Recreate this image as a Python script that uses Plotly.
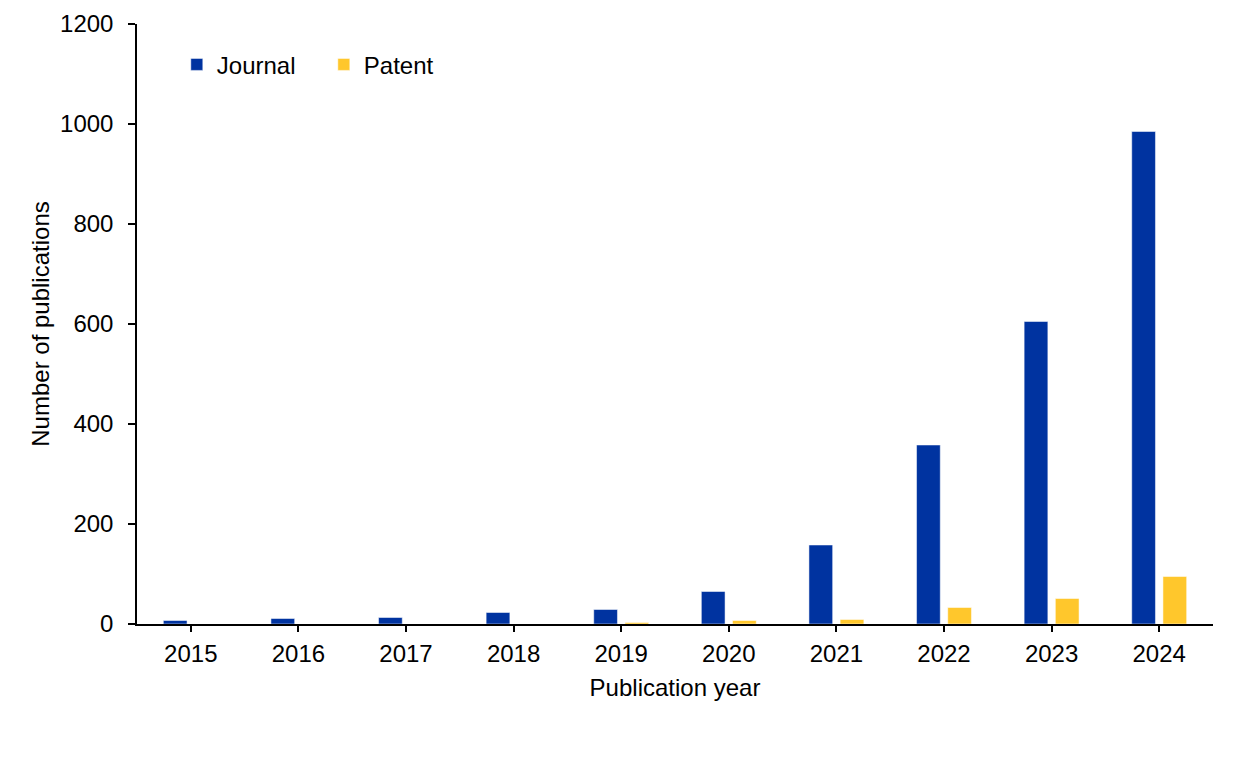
# imports
import plotly.graph_objects as go

# data
years = ['2015', '2016', '2017', '2018', '2019', '2020', '2021', '2022', '2023', '2024']
journal = [7, 11, 13, 23, 29, 65, 158, 358, 605, 985]
patent = [0, 0, 0, 0, 3, 7, 9, 33, 51, 95]
y_ticks = [0, 200, 400, 600, 800, 1000, 1200]

font_name = 'Liberation Sans, Arial, sans-serif'
text_font = dict(family=font_name, size=24, color='black')

# create the figure
fig = go.Figure()

# Journal bars
fig.add_trace(go.Bar(
    x=years,
    y=journal,
    name='Journal',
    marker_color='#0033A0'
))

# Patent bars
fig.add_trace(go.Bar(
    x=years,
    y=patent,
    name='Patent',
    marker_color='#FFC72C'
))

# Update layout (page body adds an 8px offset, so margins are trimmed by 8)
fig.update_layout(
    width=1236,
    height=781,
    template='simple_white',
    barmode='group',
    bargap=0.42,
    bargroupgap=0.24,
    margin=dict(l=129, r=31, t=16, b=165, autoexpand=False),
    font=text_font,
    plot_bgcolor='white',
    paper_bgcolor='white',
    legend=dict(
        orientation='h',
        x=0.037,
        xanchor='left',
        y=0.932,
        yanchor='middle',
        entrywidth=102,
        entrywidthmode='pixels',
        font=text_font,
        bgcolor='rgba(0,0,0,0)'
    ),
    xaxis=dict(
        title=dict(text='Publication year', standoff=14, font=text_font),
        tickfont=text_font,
        automargin=False,
        showline=True,
        linecolor='black',
        linewidth=1.5,
        ticks='outside',
        ticklen=6,
        tickwidth=1.5,
        tickcolor='black',
        ticklabelstandoff=1,
        showgrid=False,
    ),
    yaxis=dict(
        title=dict(text='Number of publications', standoff=4, font=text_font),
        tickfont=text_font,
        automargin=False,
        range=[0, 1200],
        tickvals=y_ticks,
        showline=True,
        linecolor='black',
        linewidth=1.5,
        ticks='outside',
        ticklen=7,
        tickwidth=1.5,
        tickcolor='black',
        ticklabelstandoff=10,
        showgrid=False,
        zeroline=False,
    ),
)

fig.write_html("out.html")
